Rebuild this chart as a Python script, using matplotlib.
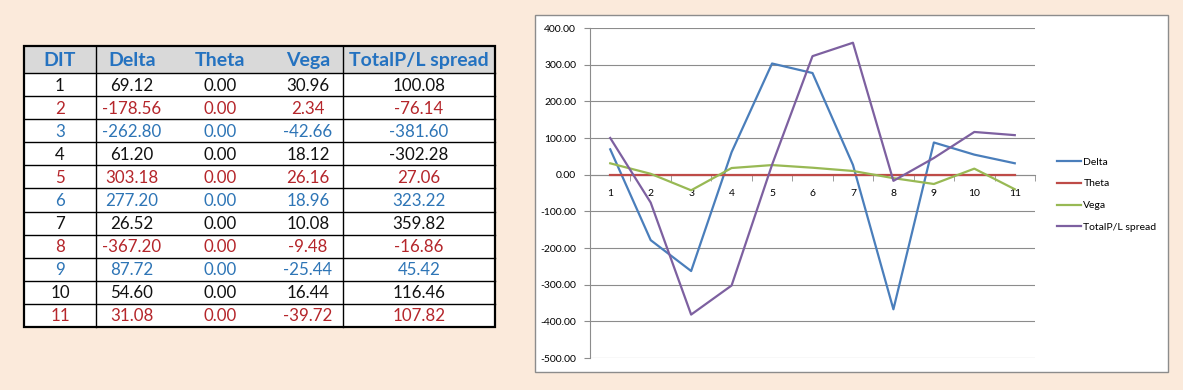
import matplotlib
matplotlib.use("Agg")
import matplotlib.pyplot as plt
from matplotlib.patches import Rectangle
from matplotlib.lines import Line2D

# data
dit = [1, 2, 3, 4, 5, 6, 7, 8, 9, 10, 11]
delta = [69.12, -178.56, -262.80, 61.20, 303.18, 277.20, 26.52, -367.20, 87.72, 54.60, 31.08]
theta = [0.00] * 11
vega = [30.96, 2.34, -42.66, 18.12, 26.16, 18.96, 10.08, -9.48, -25.44, 16.44, -39.72]
total = [100.08, -76.14, -381.60, -302.28, 27.06, 323.22, 359.82, -16.86, 45.42, 116.46, 107.82]
headers = ["DIT", "Delta", "Theta", "Vega", "TotalP/L spread"]
series_names = ["Delta", "Theta", "Vega", "TotalP/L spread"]
series_colors = ["#4A7EBB", "#BE4B48", "#98B954", "#7D60A0"]
row_colors = ["#111111", "#B5262B", "#2E75B6"]

BG = "#FBEADB"
W, H = 1183, 390
fig = plt.figure(figsize=(W / 100, H / 100), dpi=100, facecolor=BG)

# overlay in pixel coords for table and chart frame
ov = fig.add_axes([0, 0, 1, 1], zorder=0)
ov.set_xlim(0, W)
ov.set_ylim(H, 0)
ov.axis("off")

# ---- table ----
tl, tr, tt, tb = 24, 495, 46, 327
hdr_b = 73
row_h = (tb - hdr_b) / len(dit)
ov.add_patch(Rectangle((tl, tt), tr - tl, tb - tt, facecolor="white", edgecolor="none"))
ov.add_patch(Rectangle((tl, tt), tr - tl, hdr_b - tt, facecolor="#D9D9D9", edgecolor="none"))
for i in range(len(dit)):
    y = hdr_b + i * row_h
    ov.plot([tl, tr], [y, y], color="black", lw=1.0)
for x in (96, 343):
    ov.plot([x, x], [tt, tb], color="black", lw=1.0)
ov.add_patch(Rectangle((tl, tt), tr - tl, tb - tt, facecolor="none", edgecolor="black", lw=1.6))

col_x = [60, 132, 220, 308, 419]
font = "Lato"
for x, h in zip(col_x, headers):
    ov.text(x, (tt + hdr_b) / 2 + 1, h, ha="center", va="center", fontsize=14,
            fontweight="bold", color="#2472C0", family=font)
for i in range(len(dit)):
    y = hdr_b + (i + 0.5) * row_h + 1
    c = row_colors[i % 3]
    vals = [str(dit[i]), "%.2f" % delta[i], "%.2f" % theta[i], "%.2f" % vega[i], "%.2f" % total[i]]
    for x, v in zip(col_x, vals):
        ov.text(x, y, v, ha="center", va="center", fontsize=12.2, color=c, family=font)

# ---- chart frame ----
ov.add_patch(Rectangle((535, 15), 1168 - 535, 372 - 15, facecolor="white",
                       edgecolor="#8C8C8C", lw=1.0))

# ---- chart ----
pl, pr, pt, pb = 590, 1035, 28, 358
ax = fig.add_axes([pl / W, (H - pb) / H, (pr - pl) / W, (pb - pt) / H], zorder=1)
ax.patch.set_alpha(0)
for name, vals, col in zip(series_names, [delta, theta, vega, total], series_colors):
    ax.plot(dit, vals, color=col, lw=1.6, label=name, zorder=3)

ax.set_xlim(0.5, 11.5)
ax.set_ylim(-500, 400)
ax.set_yticks(range(-500, 401, 100))
ax.set_yticklabels(["%.2f" % v for v in range(-500, 401, 100)], fontsize=7.5, family=font)
ax.yaxis.grid(True, color="#8C8C8C", lw=0.8)
ax.set_axisbelow(True)
for s in ("top", "right"):
    ax.spines[s].set_visible(False)
ax.spines["left"].set_color("#8C8C8C")
ax.spines["bottom"].set_position(("data", 0))
ax.spines["bottom"].set_color("#8C8C8C")
ax.tick_params(axis="y", length=4, color="#8C8C8C", pad=6)
ax.set_xticks(dit)
ax.set_xticklabels([str(d) for d in dit], fontsize=7.5, family=font)
ax.set_xticks([d + 0.5 for d in range(0, 12)], minor=True)
ax.tick_params(axis="x", which="major", length=0, pad=10)
ax.tick_params(axis="x", which="minor", length=4, color="#8C8C8C")

handles = [Line2D([], [], color=c, lw=1.6) for c in series_colors]
fig.legend(handles, series_names, loc="upper left", bbox_to_anchor=(1048 / W, (H - 148) / H),
           frameon=False, handlelength=2.3, handletextpad=0.2,
           labelspacing=1.2, prop={"family": font, "size": 7.5})

fig.savefig("out.png", dpi=100, facecolor=BG)
